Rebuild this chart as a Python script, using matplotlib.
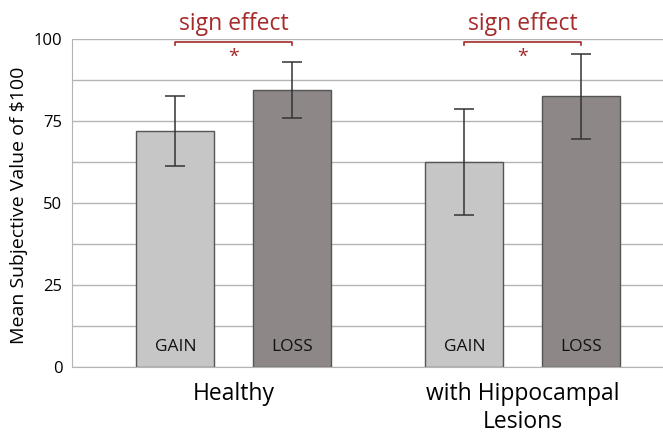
import matplotlib
matplotlib.use("Agg")
import matplotlib.pyplot as plt
import numpy as np

plt.rcParams['font.family'] = ['Open Sans', 'DejaVu Sans']

# data
groups = ["Healthy", "with Hippocampal\nLesions"]
conditions = ["GAIN", "LOSS"]
means = [[71.8, 84.5], [62.4, 82.5]]
err_low = [[61.2, 75.9], [46.3, 69.5]]
err_high = [[82.6, 93.1], [78.6, 95.5]]
sig_label = "sign effect"

gain_color = "#c6c6c6"
loss_color = "#8d8787"
red = "#a52b2a"

fig = plt.figure(figsize=(6.63, 4.37), dpi=100)
ax = fig.add_axes([72 / 663, 70.3 / 437, 591 / 663, 327.7 / 437])

group_centers = np.array([0.5, 2.98])
offsets = [-0.5, 0.5]
width = 0.67

for gi, gc in enumerate(group_centers):
    for ci, cond in enumerate(conditions):
        x = gc + offsets[ci]
        m = means[gi][ci]
        ax.bar(x, m, width=width, color=[gain_color, loss_color][ci],
               edgecolor="#555555", linewidth=1.0, zorder=2)
        yerr = [[m - err_low[gi][ci]], [err_high[gi][ci] - m]]
        ax.errorbar(x, m, yerr=yerr, fmt="none", ecolor="#333333",
                    elinewidth=1.1, capsize=7.5, capthick=1.1, zorder=3)
        ax.text(x, 6, cond, ha="center", va="center", fontsize=12.5,
                color="#111111", zorder=4)
    # significance bracket
    x0, x1 = gc + offsets[0], gc + offsets[1]
    ax.plot([x0, x0, x1, x1], [98.2, 99.0, 99.0, 98.2], color=red,
            lw=1.2, clip_on=False, zorder=4)
    ax.text(gc, 94.6, "*", ha="center", va="center", fontsize=14,
            color=red)
    ax.text(gc, 104.6, sig_label, ha="center", va="center", fontsize=16.5,
            color=red, clip_on=False)

ax.set_xlim(-0.888, 4.185)
ax.set_ylim(0, 100)
ax.set_yticks(np.arange(0, 101, 12.5))
ax.set_yticklabels(["0", "", "25", "", "50", "", "75", "", "100"])
ax.yaxis.grid(True, color="#b4b4b4", linewidth=1.0, zorder=0)
ax.set_axisbelow(True)
ax.tick_params(axis="y", length=0, pad=7, labelsize=12)
ax.tick_params(axis="x", length=0, pad=11, labelsize=16.5)
ax.set_xticks(group_centers)
ax.set_xticklabels(groups, linespacing=1.25)

for s in ["top", "right"]:
    ax.spines[s].set_visible(False)
ax.spines["left"].set_color("#b4b4b4")
ax.spines["bottom"].set_color("#b4b4b4")

ax.set_ylabel("Mean Subjective Value of $100", fontsize=14)
ax.yaxis.set_label_coords(-0.074, 0.493)

fig.savefig("out.png", dpi=100)
